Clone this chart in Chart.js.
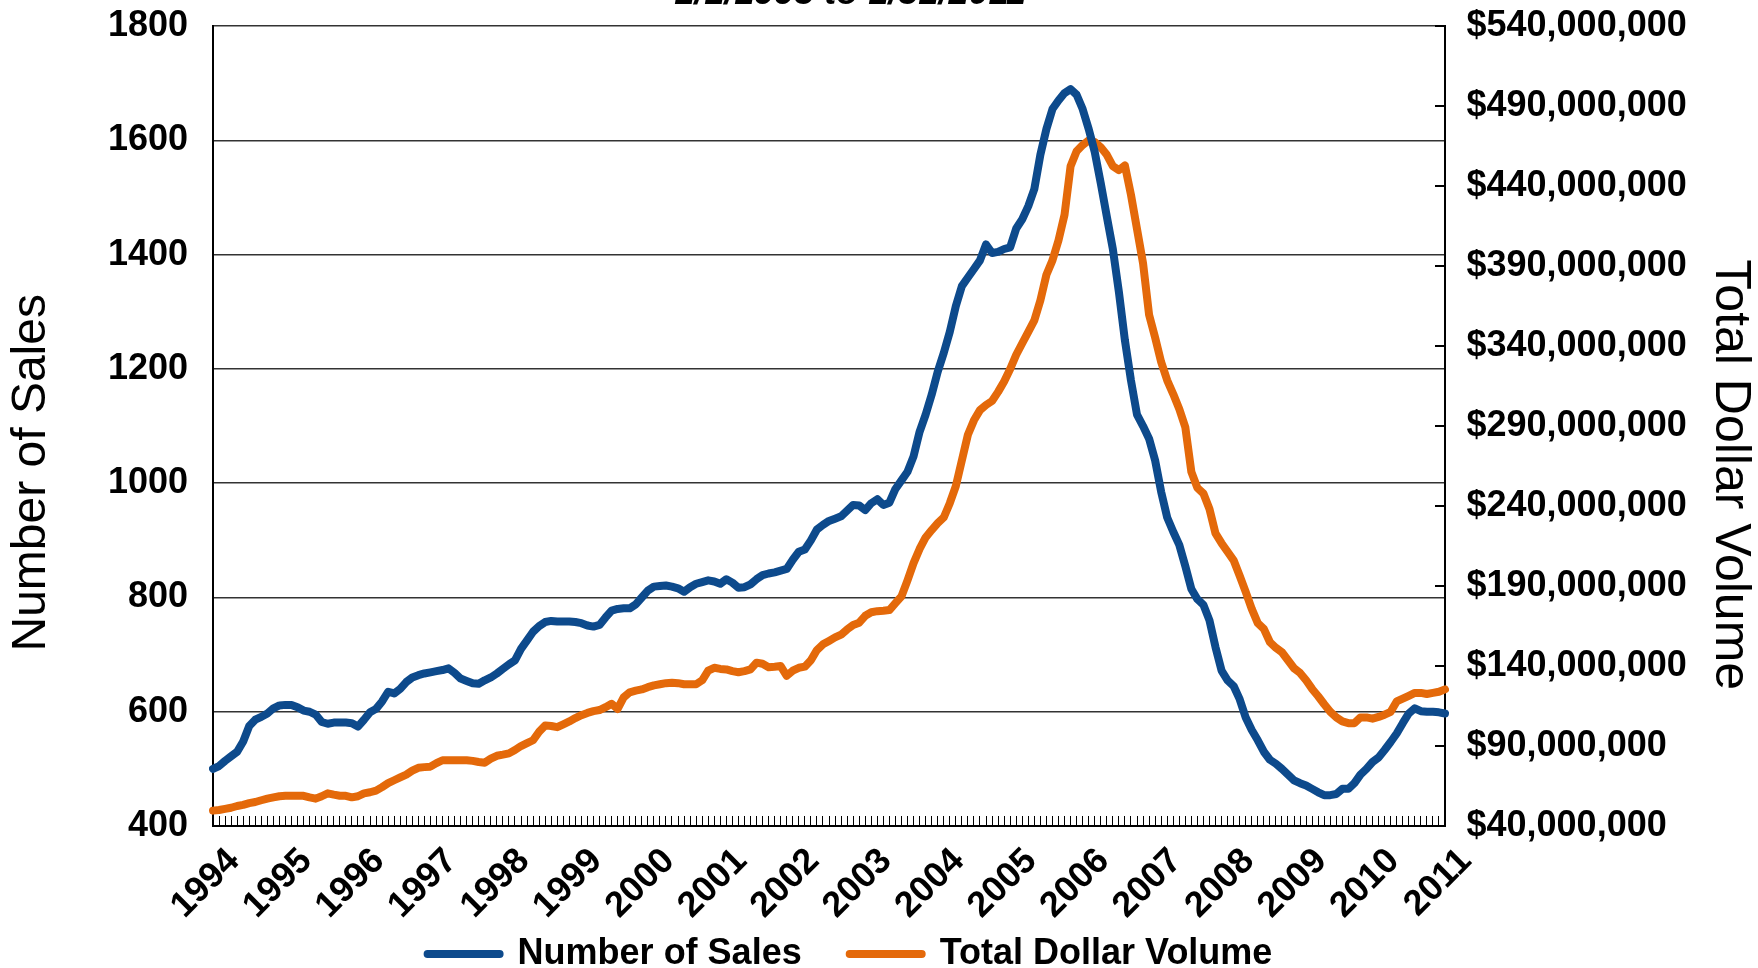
<!DOCTYPE html>
<html>
<head>
<meta charset="utf-8">
<title>Number of Sales / Total Dollar Volume</title>
<script src="https://cdn.jsdelivr.net/npm/chart.js@4"></script>
<style>
  html, body { margin: 0; padding: 0; background: #fff; }
  #wrap { width: 1758px; height: 968px; }
</style>
</head>
<body>
<div id="wrap"><canvas id="chart"></canvas></div>
<script>
// Years on the x axis (one category per month, label on January)
const years = [1994, 1995, 1996, 1997, 1998, 1999, 2000, 2001, 2002,
               2003, 2004, 2005, 2006, 2007, 2008, 2009, 2010, 2011];

// Number of sales, monthly, one row per year
const numberOfSales = [
  500, 505, 514, 522, 530, 548, 575, 586, 591, 597, 606, 611,
  612, 612, 608, 602, 600, 595, 582, 579, 581, 581, 581, 580,
  574, 586, 599, 605, 618, 635, 632, 640, 652, 660, 664, 667,
  669, 671, 673, 676, 668, 658, 654, 650, 649, 655, 660, 667,
  675, 683, 690, 710, 725, 740, 750, 757, 759, 758, 758, 758,
  757, 755, 751, 749, 752, 765, 777, 780, 781, 781, 788, 800,
  812, 819, 820, 821, 819, 816, 810, 818, 824, 827, 830, 828,
  824, 832, 826, 817, 818, 823, 832, 839, 842, 844, 847, 850,
  866, 880, 884, 900, 919, 927, 934, 938, 942, 952, 962, 961,
  953, 965, 972, 962, 966, 990, 1005, 1020, 1047, 1090, 1120, 1155,
  1195, 1228, 1265, 1310, 1345, 1360, 1375, 1390, 1418, 1403, 1405, 1410,
  1413, 1446, 1462, 1485, 1515, 1575, 1620, 1655, 1670, 1683, 1690, 1680,
  1655, 1620, 1580, 1525, 1467, 1410, 1335, 1250, 1180, 1120, 1100, 1078,
  1040, 985, 940, 915, 892, 855, 815, 797, 787, 760, 713, 672,
  655, 645, 622, 590, 568, 550, 530, 516, 509, 500, 490, 480,
  475, 471, 465, 459, 454, 454, 456, 465, 465, 475, 490, 500,
  512, 520, 533, 547, 562, 580, 597, 606, 601, 600, 600, 599,
  597
];

// Total dollar volume in millions of dollars, monthly
const dollarVolumeM = [
  49.6, 50.0, 50.7, 51.4, 52.5, 53.2, 54.3, 55.0, 56.1, 57.1, 57.9, 58.6,
  58.9, 58.9, 58.9, 58.9, 57.9, 57.1, 58.6, 60.4, 59.6, 58.9, 58.9, 57.9,
  58.6, 60.4, 61.1, 62.1, 64.3, 66.8, 68.6, 70.4, 72.1, 74.6, 76.4, 76.8,
  77.1, 79.3, 81.1, 81.1, 81.1, 81.1, 81.1, 80.7, 80.0, 79.6, 82.1, 83.9,
  84.6, 85.4, 87.5, 90.0, 91.8, 93.6, 98.9, 102.9, 102.5, 101.8, 103.6, 105.4,
  107.5, 109.3, 110.7, 111.8, 112.5, 114.3, 116.4, 113.2, 120.4, 123.6, 124.6, 125.4,
  126.8, 127.9, 128.6, 129.3, 129.6, 129.3, 128.6, 128.6, 128.6, 131.1, 137.1, 138.9,
  138.2, 137.9, 136.8, 136.1, 136.8, 137.9, 142.1, 141.4, 139.3, 139.6, 140.0, 133.9,
  137.1, 138.9, 139.6, 143.6, 150.0, 153.6, 155.7, 157.9, 159.6, 162.9, 165.7, 167.1,
  171.4, 173.6, 174.3, 174.6, 175.0, 179.3, 183.6, 193.6, 204.3, 213.2, 220.4, 225.0,
  229.3, 232.9, 241.8, 252.5, 268.6, 284.6, 293.6, 300.0, 303.2, 305.7, 311.4, 317.9,
  325.7, 334.6, 341.8, 348.9, 356.1, 368.6, 384.6, 393.6, 406.1, 422.1, 452.5, 461.8,
  465.7, 468.6, 467.5, 464.3, 459.6, 452.5, 450.0, 452.9, 434.6, 413.2, 391.8, 359.6,
  345.4, 330.0, 318.6, 310.0, 300.7, 289.3, 261.4, 251.4, 247.9, 238.2, 222.9, 216.8,
  211.4, 206.1, 196.4, 186.4, 175.7, 166.8, 163.2, 155.0, 151.4, 148.6, 143.6, 138.6,
  135.7, 131.1, 125.7, 121.1, 116.1, 111.4, 107.9, 105.4, 104.3, 104.3, 107.9, 107.9,
  107.1, 108.2, 109.6, 111.4, 117.9, 119.6, 121.4, 123.2, 123.2, 122.5, 123.2, 123.9,
  125.4
];

// Axis ranges
const salesRange  = [400, 1800, 200];   // min, max, step
const dollarRange = [40, 540, 50];      // millions

const BLUE   = '#0d4a8c';
const ORANGE = '#e4690a';
const FONT   = "'Liberation Sans', Arial, sans-serif";

// one category per month, the last year only has January
const monthLabels = [];
years.forEach((y, i) => {
    const months = i === years.length - 1 ? 1 : 12;
    for (let m = 1; m <= months; m++) {
        monthLabels.push(y + '-' + String(m).padStart(2, '0'));
    }
});

Chart.defaults.font.family = FONT;
Chart.defaults.color = '#000';

// y axes: keep the label overhang out of the layout, the plot box is fixed
function fixYAxis(width) {
    return s => {
        s.width = width;
        s.paddingTop = 0;
        s.paddingBottom = 0;
    };
}

new Chart(document.getElementById('chart'), {
    type: 'line',
    data: {
        labels: monthLabels,
        datasets: [
            {
                label: 'Number of Sales',
                data: numberOfSales,
                yAxisID: 'ySales',
                borderColor: BLUE,
                backgroundColor: BLUE,
                borderWidth: 8,
                pointRadius: 0,
                tension: 0,
                borderJoinStyle: 'round',
                borderCapStyle: 'round'
            },
            {
                label: 'Total Dollar Volume',
                data: dollarVolumeM,
                yAxisID: 'yDollars',
                borderColor: ORANGE,
                backgroundColor: ORANGE,
                borderWidth: 8,
                pointRadius: 0,
                tension: 0,
                borderJoinStyle: 'round',
                borderCapStyle: 'round'
            }
        ]
    },
    options: {
        responsive: true,
        maintainAspectRatio: false,
        animation: false,
        layout: { padding: { left: 0, right: 58, top: 0, bottom: 0 } },
        plugins: {
            title: {
                display: true,
                text: '1/1/1993 to 1/31/2011',
                color: '#000',
                font: { size: 36, weight: 'bold', style: 'italic' },
                padding: { top: -28, bottom: 11 }
            },
            legend: {
                position: 'bottom',
                maxHeight: 50,
                labels: {
                    boxWidth: 72,
                    boxHeight: 0,
                    padding: 18,
                    color: '#000',
                    font: { size: 36, weight: 'bold' },
                    generateLabels: chart => {
                        const items = Chart.defaults.plugins.legend.labels.generateLabels(chart);
                        // a wider gap after the first entry
                        items[0].text += '   ';
                        return items;
                    }
                }
            },
            tooltip: { enabled: false }
        },
        scales: {
            x: {
                type: 'category',
                grid: {
                    display: true,
                    drawOnChartArea: false,
                    drawTicks: true,
                    tickLength: -10,
                    color: '#000',
                    lineWidth: 1
                },
                border: { display: true, color: '#000', width: 2 },
                ticks: {
                    autoSkip: false,
                    minRotation: 45,
                    maxRotation: 45,
                    padding: 24,
                    labelOffset: 21,
                    color: '#000',
                    font: { size: 36, weight: 'bold' },
                    callback: function (value, index) {
                        const lab = monthLabels[index];
                        return lab.endsWith('-01') ? lab.slice(0, 4) : '';
                    }
                },
                afterFit: s => { s.height = 92; }
            },
            ySales: {
                position: 'left',
                min: salesRange[0],
                max: salesRange[1],
                ticks: {
                    stepSize: salesRange[2],
                    padding: 25,
                    color: '#000',
                    font: { size: 36, weight: 'bold' },
                    callback: v => String(v)
                },
                grid: { color: '#333', lineWidth: 1.5, drawTicks: false },
                border: { color: '#000', width: 2 },
                title: {
                    display: true,
                    text: 'Number of Sales       ',
                    color: '#000',
                    font: { size: 48 },
                    padding: { top: 3, bottom: 0 }
                },
                afterFit: fixYAxis(213)
            },
            yDollars: {
                position: 'right',
                min: dollarRange[0],
                max: dollarRange[1],
                ticks: {
                    stepSize: dollarRange[2],
                    padding: 31.5,
                    color: '#000',
                    font: { size: 36, weight: 'bold' },
                    callback: v => '$' + (v * 1000000).toLocaleString('en-US')
                },
                grid: {
                    drawOnChartArea: false,
                    drawTicks: true,
                    tickLength: -10,
                    color: '#000',
                    lineWidth: 2
                },
                border: { color: '#000', width: 2 },
                title: {
                    display: true,
                    text: '       Total Dollar Volume',
                    color: '#000',
                    font: { size: 50 },
                    padding: { top: -59.5, bottom: 0 }
                },
                afterFit: fixYAxis(255)
            }
        }
    }
});
</script>
</body>
</html>
